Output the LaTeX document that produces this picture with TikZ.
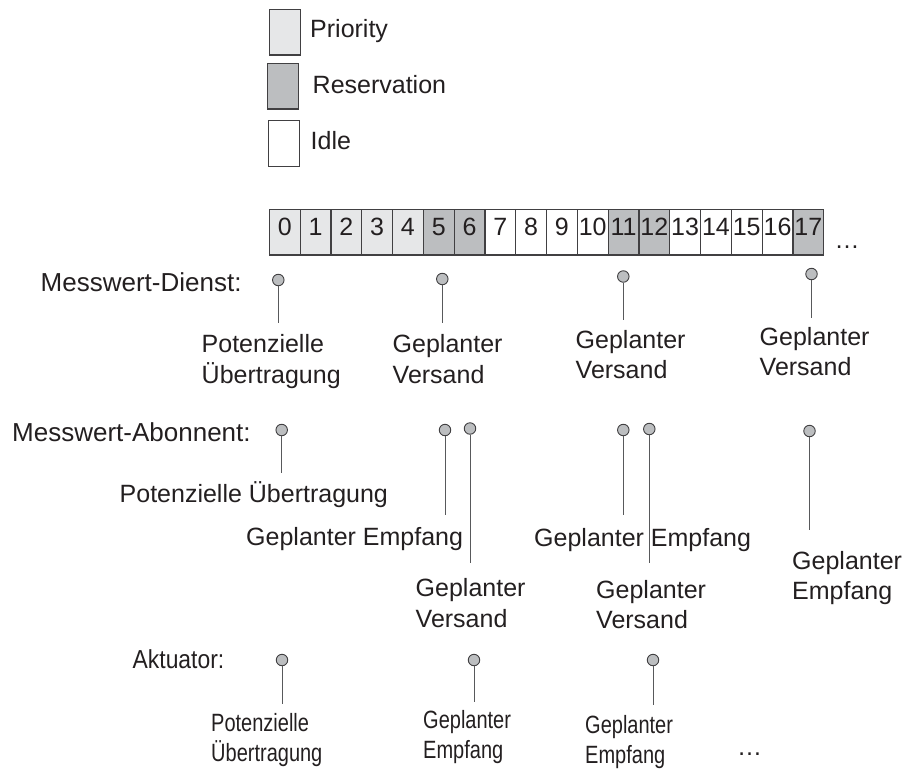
\documentclass[tikz,border=0pt]{standalone}
\usepackage{fontspec}
\setmainfont{Liberation Sans}
% condensed cuts for the actuator row
\newfontfamily\narrowfont[FakeStretch=0.8]{Liberation Sans}
\newfontfamily\titlenarrow[FakeStretch=0.88]{Liberation Sans}
\definecolor{ink}{HTML}{231F20}
\definecolor{edge}{HTML}{414042}
\definecolor{stemgray}{HTML}{58595B}
\definecolor{prio}{HTML}{E6E7E8}
\definecolor{resv}{HTML}{BCBEC0}
% fixed first-line height so that label tops are predictable
\newcommand\lblstrut{\rule{0pt}{24pt}}
\begin{document}
\begin{tikzpicture}[x=1pt,y=-1pt,
  txt/.style={font=\fontsize{25}{30.5}\selectfont, text=ink, inner sep=0pt, anchor=base west},
  title/.style={font=\fontsize{26}{30}\selectfont, text=ink, inner sep=0pt, anchor=base west},
  lbl/.style={font=\fontsize{25}{30.5}\selectfont, text=ink, inner sep=0pt, anchor=north west, align=left},
  nlbl/.style={font=\narrowfont\fontsize{25}{30}\selectfont, text=ink, inner sep=0pt, anchor=north west, align=left},
  slot/.style={draw=edge, line width=1.2pt, minimum width=30.8pt, minimum height=45.7pt, inner sep=0pt,
    font=\fontsize{25}{30}\selectfont, text=ink, text height=18pt, text depth=12pt},
  keybox/.style={draw=edge, line width=1.2pt, minimum width=31.3pt, minimum height=45.7pt, inner sep=0pt},
  pin/.style={circle, draw=edge, fill=resv, line width=0.9pt, minimum size=11.5pt, inner sep=0pt},
  stem/.style={draw=stemgray, line width=1pt}]
\useasboundingbox (0,0) rectangle (908,769);

% ---- legend ----
\node[keybox, fill=prio] (kP) at (285.0,32.15) {};
\node[keybox, fill=resv] (kR) at (283.0,86.15) {};
\node[keybox, fill=white] (kI) at (284.2,143.7) {};
\node[txt] (tP) at (310.0,37.3) {Priority};
\node[txt] (tR) at (312.5,93.3) {Reservation};
\node[txt] (tI) at (310.5,149.3) {Idle};

% ---- slot strip ----
\foreach \i/\c in {0/prio,1/prio,2/prio,3/prio,4/prio,5/resv,6/resv,7/white,8/white,
                   9/white,10/white,11/resv,12/resv,13/white,14/white,15/white,16/white,17/resv}
  \node[slot, fill=\c] (s\i) at ({269.3+30.8*(\i+0.5)},232.15) {\i};
\node[txt] (more) at (834.5,248) {…};

% ---- Messwert-Dienst ----
\node[title] (rowA) at (40.5,291.7) {Messwert-Dienst:};
\node[pin] (pA) at (278.3,280) {};
\node[pin] (pB) at (442.3,279) {};
\node[pin] (pC) at (623.3,276.5) {};
\node[pin] (pD) at (811.5,274) {};
\coordinate (eA) at (278.3,323.3);
\coordinate (eB) at (442.3,323.3);
\coordinate (eC) at (623.3,320);
\coordinate (eD) at (811.5,318.3);
\foreach \p in {A,B,C,D} \draw[stem] (p\p) -- (e\p);
\node[lbl] (lA) at (201.5,{352.3-24}) {\lblstrut Potenzielle\\Übertragung};
\node[lbl] (lB) at (392.5,{352.3-24}) {\lblstrut Geplanter\\Versand};
\node[lbl] (lC) at (575.5,{348.0-24}) {\lblstrut Geplanter\\Versand};
\node[lbl] (lD) at (759.5,{345.0-24}) {\lblstrut Geplanter\\Versand};

% ---- Messwert-Abonnent ----
\node[title] (rowB) at (12,441.7) {Messwert-Abonnent:};
\node[pin] (pE) at (281.7,430) {};
\node[pin] (pF) at (445,430) {};
\node[pin] (pG) at (470,428.5) {};
\node[pin] (pH) at (623.3,430) {};
\node[pin] (pI) at (649.3,429) {};
\node[pin] (pJ) at (809.5,431) {};
\coordinate (eE) at (281.7,473.3);
\coordinate (eF) at (445,515);
\coordinate (eG) at (470,563.3);
\coordinate (eH) at (623.3,515);
\coordinate (eI) at (649.3,563.3);
\coordinate (eJ) at (809.5,530);
\foreach \p in {E,F,G,H,I,J} \draw[stem] (p\p) -- (e\p);
\node[txt] (lE) at (119.5,502.3) {Potenzielle Übertragung};
\node[txt] (lF) at (246,545.7) {Geplanter Empfang};
\node[lbl] (lG) at (415.5,{596.7-24}) {\lblstrut Geplanter\\Versand};
\node[txt] (lH) at (534,546.5) {Geplanter Empfang};
\node[lbl] (lI) at (596,{598.0-24}) {\lblstrut Geplanter\\Versand};
\node[lbl] (lJ) at (792,{569.0-24}) {\lblstrut Geplanter\\Empfang};

% ---- Aktuator ----
\node[title, font=\titlenarrow\fontsize{26}{30}\selectfont] (rowC) at (132.5,668) {Aktuator:};
\node[pin] (pK) at (282,660) {};
\node[pin] (pL) at (474,660) {};
\node[pin] (pM) at (653,660) {};
\coordinate (eK) at (282,704);
\coordinate (eL) at (474,702);
\coordinate (eM) at (653,705);
\foreach \p in {K,L,M} \draw[stem] (p\p) -- (e\p);
\node[nlbl] (lK) at (211,{731-24}) {\lblstrut Potenzielle\\Übertragung};
\node[nlbl] (lL) at (423,{728-24}) {\lblstrut Geplanter\\Empfang};
\node[nlbl] (lM) at (585,{733-24}) {\lblstrut Geplanter\\Empfang};
\node[txt] (moreC) at (737,755) {…};
\end{tikzpicture}
\end{document}
